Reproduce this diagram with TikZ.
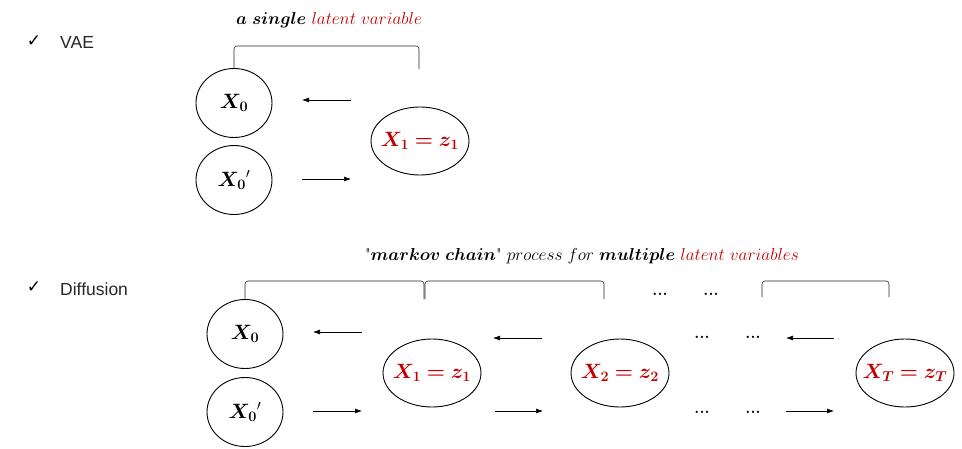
\documentclass[tikz,border=0pt]{standalone}
\usepackage{amsmath,bm}
\usepackage{fontspec}
\newfontfamily\labelfont{Liberation Sans}
\newfontfamily\symfont{DejaVu Sans}
\usetikzlibrary{shapes.geometric,arrows.meta}
\definecolor{myred}{RGB}{192,0,0}
\begin{document}
\begin{tikzpicture}[x=1pt,y=-1pt,
  circ/.style={draw,ellipse,line width=0.9pt,minimum width=76pt,minimum height=69pt,inner sep=0pt,font=\fontsize{20}{22}\selectfont},
  lat/.style={draw,ellipse,line width=0.9pt,minimum width=98pt,minimum height=68pt,inner xsep=-10pt,inner ysep=0pt,text=myred,font=\fontsize{20}{22}\selectfont},
  arr/.style={-{Latex[length=7pt,width=5pt]},line width=0.6pt},
  brk/.style={draw,line width=0.6pt,rounded corners=3pt,black!85},
  ttl/.style={font=\fontsize{17}{19}\selectfont,inner sep=0pt},
  sec/.style={font=\labelfont\fontsize{17.5}{19}\selectfont,inner sep=0pt,anchor=west,text=black!85},
  chk/.style={font=\symfont\fontsize{17}{19}\selectfont,inner sep=0pt},
  dots/.style={font=\fontsize{16}{18}\selectfont\bfseries,inner sep=0pt}]
\useasboundingbox (0,0) rectangle (962,448);
% ---------- VAE ----------
\node[chk] (c1) at (34,41) {✓};
\node[sec] (s1) at (60,42) {VAE};
\node[ttl] (t1) at (329,20) {$\bm{a\ single}$ \textcolor{myred}{$latent\ variable$}};
\coordinate (b1a) at (234,68);
\coordinate (b1b) at (419,69);
\draw[brk] (b1a) |- (327,46) -| (b1b);
\node[circ] (v0) at (234,103) {$\bm{X_0}$};
\node[circ] (v0p) at (234,180) {${\bm{X_0}}'$};
\node[lat] (v1) at (420,141) {$\bm{X_1=z_1}$};
\coordinate (va1) at (351,100); \coordinate (va2) at (302,100);
\coordinate (vb1) at (302,179); \coordinate (vb2) at (351,179);
\draw[arr] (va1) -- (va2);
\draw[arr] (vb1) -- (vb2);
% ---------- Diffusion ----------
\node[chk] (c2) at (34,287) {✓};
\node[sec] (s2) at (60,289) {Diffusion};
\node[ttl] (t2) at (582,256) {\textquotedbl$\bm{markov\ chain}$\textquotedbl{} $process\ for$ $\bm{multiple}$ \textcolor{myred}{$latent\ variables$}};
\coordinate (p1) at (245,299); \coordinate (p2) at (424,299);
\coordinate (p3) at (425,299); \coordinate (p4) at (604,299);
\coordinate (p5) at (762,297); \coordinate (p6) at (889,297);
\draw[brk] (p1) |- (330,281) -| (p2);
\draw[brk] (p3) |- (510,281) -| (p4);
\draw[brk] (p5) |- (820,281) -| (p6);
\node[dots] (d1) at (660,294) {...};
\node[dots] (d2) at (711,294) {...};
\node[circ] (x0) at (245,334) {$\bm{X_0}$};
\node[circ] (x0p) at (245,412) {${\bm{X_0}}'$};
\node[lat] (x1) at (432,373) {$\bm{X_1=z_1}$};
\node[lat] (x2) at (620,373) {$\bm{X_2=z_2}$};
\node[lat] (xT) at (905,373) {$\bm{X_T=z_T}$};
\coordinate (a1) at (362,332); \coordinate (a2) at (313,332);
\coordinate (a3) at (542,338); \coordinate (a4) at (493,338);
\coordinate (a5) at (834,338); \coordinate (a6) at (786,338);
\coordinate (b1) at (313,411); \coordinate (b2) at (362,411);
\coordinate (b3) at (495,411); \coordinate (b4) at (543,411);
\coordinate (b5) at (786,411); \coordinate (b6) at (834,411);
\draw[arr] (a1) -- (a2);
\draw[arr] (a3) -- (a4);
\draw[arr] (a5) -- (a6);
\draw[arr] (b1) -- (b2);
\draw[arr] (b3) -- (b4);
\draw[arr] (b5) -- (b6);
\node[dots] (d3) at (702,337) {...};
\node[dots] (d4) at (753,337) {...};
\node[dots] (d5) at (702,412) {...};
\node[dots] (d6) at (753,412) {...};
\end{tikzpicture}
\end{document}
